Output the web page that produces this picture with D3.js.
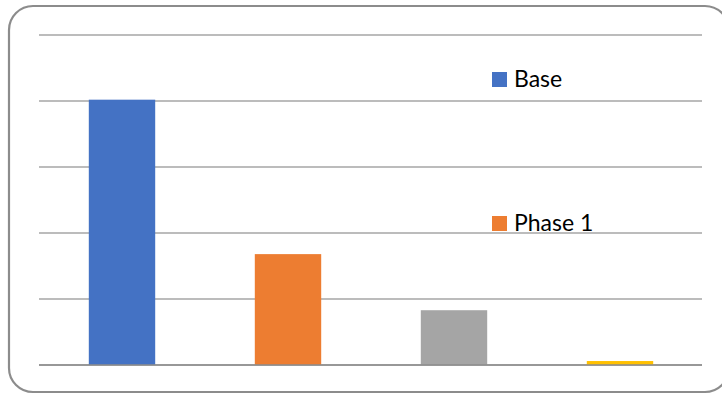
<!DOCTYPE html>
<html>
<head>
<meta charset="utf-8">
<script src="https://cdn.jsdelivr.net/npm/d3@7"></script>
<style>
html,body{margin:0;padding:0;background:#fff;}
svg{display:block;}
</style>
</head>
<body>
<svg id="chart" width="722" height="394"></svg>
<script>
const categories = ["Base", "Phase 1", "Phase 2", "Phase 3"];
const values = [40.2, 16.8, 8.3, 0.6];
const colors = ["#4472C4", "#ED7D31", "#A5A5A5", "#FFC000"];
const legendNames = ["Base", "Phase 1"];
const yTicks = [0, 10, 20, 30, 40, 50];

const svg = d3.select("#chart");

// outer rounded frame
svg.append("rect")
  .attr("x", 9).attr("y", 6)
  .attr("width", 720).attr("height", 386)
  .attr("rx", 24).attr("ry", 24)
  .attr("fill", "#fff")
  .attr("stroke", "#8c8c8c").attr("stroke-width", 2.2);

const plot = {left: 39, right: 703, top: 35, bottom: 365};
const x = d3.scaleBand().domain(categories)
  .range([plot.left, plot.right]).paddingInner(0.6).paddingOuter(0.3);
const y = d3.scaleLinear().domain([0, 50]).range([plot.bottom, plot.top]);

// gridlines
svg.append("g").selectAll("line").data(yTicks).join("line")
  .attr("x1", plot.left).attr("x2", plot.right - 1)
  .attr("y1", d => y(d)).attr("y2", d => y(d))
  .attr("stroke", "#a6a6a6").attr("stroke-width", 1.3);

// bars
svg.append("g").selectAll("rect").data(values).join("rect")
  .attr("x", (d, i) => x(categories[i]))
  .attr("width", x.bandwidth())
  .attr("y", d => y(d))
  .attr("height", d => y(0) - y(d))
  .attr("fill", (d, i) => colors[i]);

// baseline on top
svg.append("line")
  .attr("x1", plot.left).attr("x2", plot.right - 1)
  .attr("y1", y(0)).attr("y2", y(0))
  .attr("stroke", "#8c8c8c").attr("stroke-width", 1.3);

// legend
const leg = svg.append("g").selectAll("g").data(legendNames).join("g")
  .attr("transform", (d, i) => `translate(492, ${72 + i * 144})`);
leg.append("rect").attr("width", 15).attr("height", 15)
  .attr("fill", (d, i) => colors[i]);
leg.append("text").attr("x", 22).attr("y", 14.7)
  .attr("font-family", "Lato, 'Open Sans', sans-serif")
  .attr("font-size", 23).attr("fill", "#000")
  .text(d => d);
</script>
</body>
</html>
